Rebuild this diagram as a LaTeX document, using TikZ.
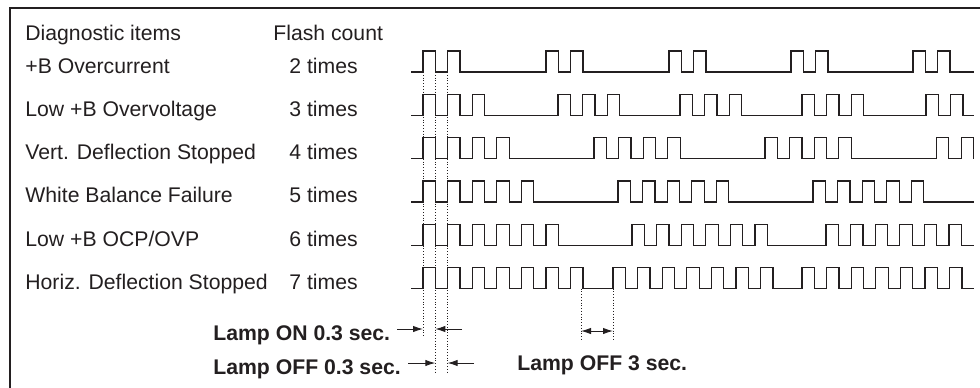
\documentclass[tikz,border=0pt]{standalone}
\usepackage{fontspec}
\setmainfont{Liberation Sans}
\usetikzlibrary{arrows.meta}
\definecolor{ink}{HTML}{231F20}
\def\uu{12.3}
\newcommand{\pulsetrain}[3]{%
  \draw[wave] (411,#1) \foreach \s in {#3}{ \foreach \k in {1,...,#2}{
     -- ({\s+(2*\k-2)*\uu},#1) -- ({\s+(2*\k-2)*\uu},#1-21)
     -- ({\s+(2*\k-1)*\uu},#1-21) -- ({\s+(2*\k-1)*\uu},#1) } } -- (1000,#1);
}
\begin{document}
\begin{tikzpicture}[x=0.5pt,y=-0.5pt,
  lbl/.style={anchor=base west,inner sep=0pt,font=\fontsize{10.6}{12}\selectfont,text=ink},
  blbl/.style={anchor=base west,inner sep=0pt,font=\fontsize{10.6}{12}\selectfont\bfseries,text=ink},
  wave/.style={draw=ink,line width=0.6pt,line join=miter},
  frameline/.style={draw=ink,line width=1.3pt},
  guide/.style={draw=ink,line width=0.45pt,dash pattern=on 0.5pt off 0.9pt},
  dimarrow/.style={draw=ink,line width=0.45pt,-{Latex[length=5pt,width=3.2pt]}},
  dimboth/.style={draw=ink,line width=0.45pt,{Latex[length=5pt,width=3.2pt]}-{Latex[length=5pt,width=3.2pt]}}]
\useasboundingbox (0,0) rectangle (980,387);
\clip (0,0) rectangle (980,387);
% frame
\coordinate (fbl) at (10,400);
\coordinate (ftl) at (10,8);
\coordinate (ftr) at (1000,8);
\draw[frameline] (fbl) -- (ftl) -- (ftr);
% headers
\node[lbl] (hdiag) at (25,40) {Diagnostic items};
\node[lbl] (hflash) at (273,40) {Flash count};
% rows
\node[lbl] (l1) at (25,73) {+B Overcurrent};
\node[lbl] (l2) at (25,116.3) {Low +B Overvoltage};
\node[lbl] (l3) at (25,159.6) {Vert. Deflection Stopped};
\node[lbl] (l4) at (25,202.9) {White Balance Failure};
\node[lbl] (l5) at (25,246.2) {Low +B OCP/OVP};
\node[lbl] (l6) at (25,289.5) {Horiz. Deflection Stopped};
\node[lbl] (c1) at (289,73) {2 times};
\node[lbl] (c2) at (289,116.3) {3 times};
\node[lbl] (c3) at (289,159.6) {4 times};
\node[lbl] (c4) at (289,202.9) {5 times};
\node[lbl] (c5) at (289,246.2) {6 times};
\node[lbl] (c6) at (289,289.5) {7 times};
% waveforms
\begin{scope}
\clip (400,0) rectangle (973.9,387);
\pulsetrain{72}{2}{423,546,669,791,913}
\pulsetrain{115.3}{3}{423,558,680,802,926}
\pulsetrain{158.6}{4}{423,594,765,936.5}
\pulsetrain{201.9}{5}{423,618,813}
\pulsetrain{245.2}{6}{423,632,826}
\pulsetrain{288.5}{7}{423,613,802}
\end{scope}
% guide lines
\coordinate (ga1) at (423,72);   \coordinate (ga2) at (423,336);
\coordinate (gb1) at (435.3,72); \coordinate (gb2) at (435.3,372);
\coordinate (gc1) at (447.6,72); \coordinate (gc2) at (447.6,372);
\coordinate (gd1) at (581,288.5); \coordinate (gd2) at (581,340);
\coordinate (ge1) at (613,288.5); \coordinate (ge2) at (613,340);
\draw[guide] (ga1) -- (ga2);
\draw[guide] (gb1) -- (gb2);
\draw[guide] (gc1) -- (gc2);
\draw[guide] (gd1) -- (gd2);
\draw[guide] (ge1) -- (ge2);
% annotations
\node[blbl] (on03) at (213,340) {Lamp ON 0.3 sec.};
\node[blbl] (off03) at (213,374.5) {Lamp OFF 0.3 sec.};
\node[blbl] (off3) at (517,370) {Lamp OFF 3 sec.};
\coordinate (a1s) at (397,329); \coordinate (a1e) at (423,329);
\coordinate (a2s) at (462,329); \coordinate (a2e) at (435.3,329);
\coordinate (a3s) at (408,363); \coordinate (a3e) at (435.3,363);
\coordinate (a4s) at (474,363); \coordinate (a4e) at (447.6,363);
\coordinate (a5s) at (581,331); \coordinate (a5e) at (613,331);
\draw[dimarrow] (a1s) -- (a1e);
\draw[dimarrow] (a2s) -- (a2e);
\draw[dimarrow] (a3s) -- (a3e);
\draw[dimarrow] (a4s) -- (a4e);
\draw[dimboth] (a5s) -- (a5e);
\end{tikzpicture}
\end{document}
